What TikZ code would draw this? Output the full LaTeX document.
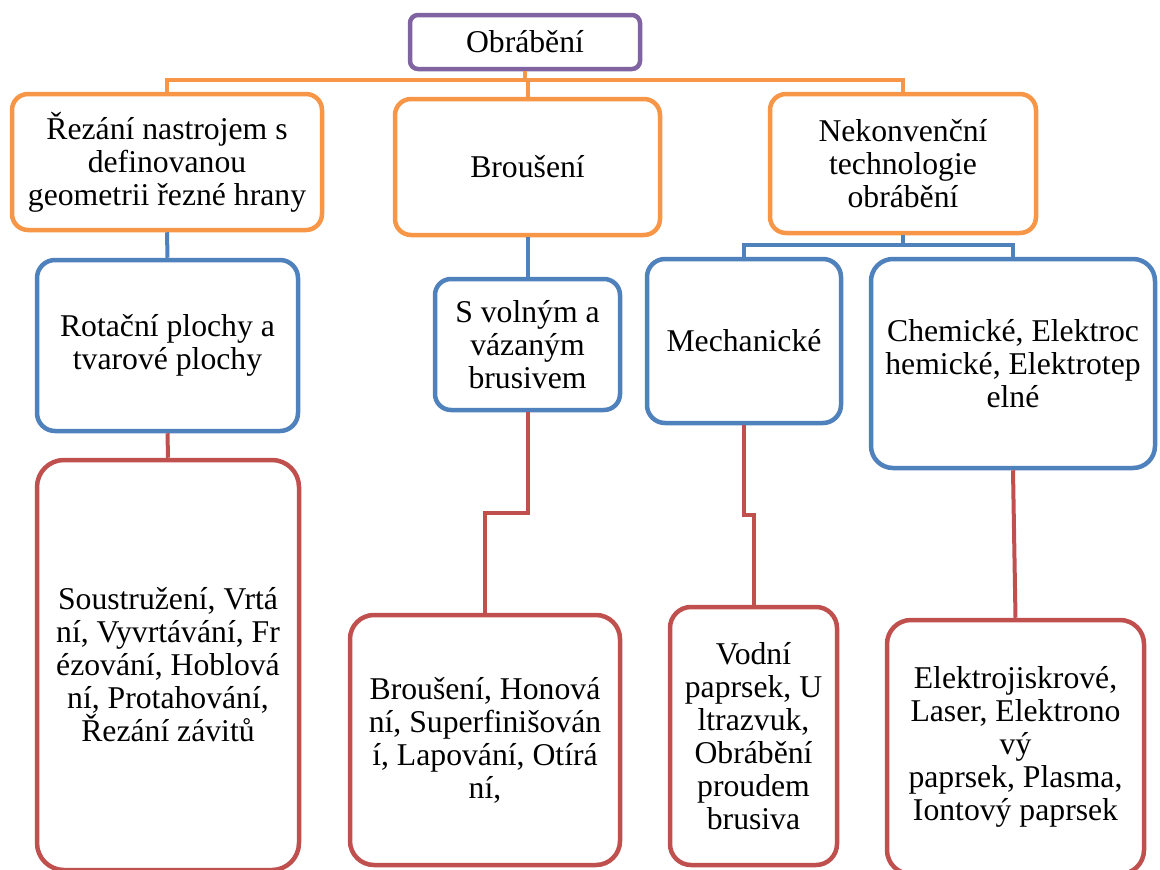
\documentclass[tikz,border=0pt]{standalone}
\usepackage{fontspec}
\setmainfont{Liberation Serif}
\definecolor{cpurple}{HTML}{8064A2}
\definecolor{corange}{HTML}{F79646}
\definecolor{cblue}{HTML}{4F81BD}
\definecolor{cred}{HTML}{C0504D}
\begin{document}
\begin{tikzpicture}[x=1pt,y=-1pt,
  box/.style={draw, line width=4.5pt, fill=white, align=center, inner sep=0pt,
    font=\fontsize{31.7}{33}\selectfont},
  purplebox/.style={box, draw=cpurple, rounded corners=8pt},
  orangebox/.style={box, draw=corange, rounded corners=16pt},
  bluebox/.style={box, draw=cblue, rounded corners=18pt},
  redbox/.style={box, draw=cred, rounded corners=24pt},
  oline/.style={draw=corange, line width=4pt},
  bline/.style={draw=cblue, line width=4pt},
  rline/.style={draw=cred, line width=4pt}]
\useasboundingbox (0,0) rectangle (1160,870);
\clip (0,0) rectangle (1160,870);

% nodes
\node[purplebox, minimum width=230pt, minimum height=54pt] (top) at (525,42) {Obrábění};

\node[orangebox, minimum width=310pt, minimum height=136pt] (A) at (167,162)
  {Řezání nastrojem s\\definovanou\\geometrii řezné hrany};
\node[orangebox, minimum width=265pt, minimum height=136pt] (B) at (527.5,167)
  {Broušení};
\node[orangebox, minimum width=266pt, minimum height=139pt] (C) at (903,163.5)
  {Nekonvenční\\technologie\\obrábění};

\node[bluebox, minimum width=261pt, minimum height=171pt] (D) at (167.5,345.5)
  {Rotační plochy a\\tvarové plochy};
\node[bluebox, minimum width=185pt, minimum height=131pt, rounded corners=16pt] (E) at (527.5,344.5)
  {S volným a\\vázaným\\brusivem};
\node[bluebox, minimum width=194pt, minimum height=164pt] (F) at (744,341)
  {Mechanické};
\node[bluebox, minimum width=284pt, minimum height=209pt, rounded corners=22pt] (G) at (1013,363.5)
  {Chemické, Elektroc\\hemické, Elektrotep\\elné};

\node[redbox, minimum width=262pt, minimum height=410pt, rounded corners=27pt] (H) at (168,665)
  {Soustružení, Vrtá\\ní, Vyvrtávání, Fr\\ézování, Hoblová\\ní, Protahování,\\Řezání závitů};
\node[redbox, minimum width=270pt, minimum height=250pt] (I) at (485,740)
  {Broušení, Honová\\ní, Superfinišován\\í, Lapování, Otírá\\ní,};
\node[redbox, minimum width=167pt, minimum height=258pt, rounded corners=21pt] (J) at (753.5,736)
  {Vodní\\paprsek, U\\ltrazvuk,\\Obrábění\\proudem\\brusiva};
\node[redbox, minimum width=257pt, minimum height=254pt] (K) at (1015.5,747)
  {Elektrojiskrové,\\Laser, Elektrono\\vý\\paprsek, Plasma,\\Iontový paprsek};

% connectors: orange
\coordinate (obus) at (525,80);
\draw[oline] (top.south) -- (obus);
\draw[oline] (obus) -| (A.north);
\draw[oline] (obus) -| (C.north);
\draw[oline] (obus) -| (B.north);

% connectors: blue
\draw[bline] (A.south) -- (D.north);
\draw[bline] (B.south) -- (E.north);
\coordinate (cbus) at (903,245);
\draw[bline] (C.south) -- (cbus);
\draw[bline] (cbus) -| (F.north);
\draw[bline] (cbus) -| (G.north);

% connectors: red
\draw[rline] (D.south) -- (H.north);
\draw[rline] (E.south) -- ++(0,101) -| (I.north);
\draw[rline] (F.south) -- ++(0,90) -| (J.north);
\draw[rline] (G.south) -- (K.north);
\end{tikzpicture}
\end{document}
